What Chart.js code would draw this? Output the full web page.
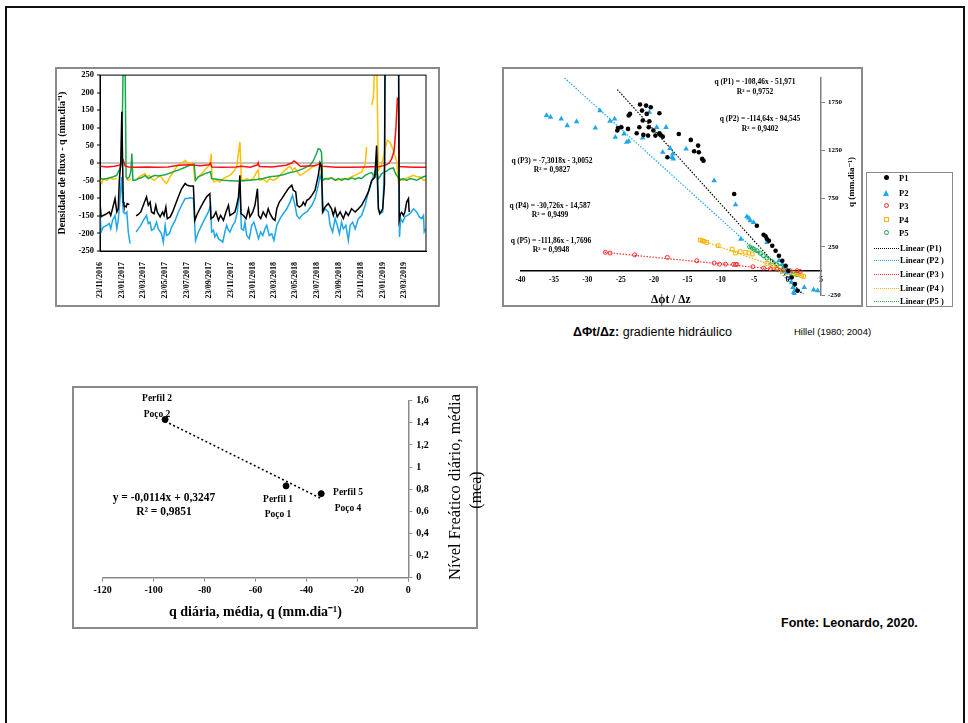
<!DOCTYPE html>
<html lang="pt">
<head>
<meta charset="UTF-8">
<title>Fluxo e nível freático</title>
<script src="https://cdn.jsdelivr.net/npm/chart.js@4"></script>
<style>
    body {
        margin: 0;
        width: 968px;
        height: 723px;
        background: #fff;
        position: relative;
        overflow: hidden;
        font-family: "Liberation Serif", "DejaVu Serif", serif;
    }
    .pagina {
        position: absolute;
        left: 5px;
        top: 6px;
        width: 956px;
        height: 760px;
        border: 2.5px solid #111;
        border-bottom: none;
    }
    .quadro {
        position: absolute;
        border: 2px solid #8a8a8a;
        box-sizing: border-box;
    }
    canvas { position: absolute; }
    .txt {
        position: absolute;
        white-space: nowrap;
        font-weight: bold;
        color: #000;
        text-align: center;
        transform: translateX(-50%);
    }
    .vert {
        position: absolute;
        white-space: nowrap;
        color: #000;
        transform: translate(-50%, -50%) rotate(-90deg);
    }
    /* legenda do grafico de dispersao */
    .legenda {
        position: absolute;
        left: 866px;
        top: 172px;
        width: 87px;
        height: 135px;
        border: 1px solid #8a8a8a;
        box-sizing: border-box;
        font-weight: bold;
        font-size: 8.5px;
    }
    .item { position: absolute; left: 0; height: 10px; width: 86px; }
    .item span { position: absolute; top: 0; line-height: 10px; }
    .mk { position: absolute; box-sizing: border-box; }
    .ln { position: absolute; left: 7px; top: 5px; width: 25px; border-top: 1.5px dotted; }
</style>
</head>
<body>
<div class="pagina"></div>

<!-- grafico 1 : densidade de fluxo -->
<div class="quadro" style="left:55px;top:67px;width:385px;height:240px"></div>
<canvas id="grafFluxo" width="385" height="240" style="left:55px;top:67px"></canvas>

<!-- grafico 2 : gradiente hidraulico -->
<div class="quadro" style="left:502px;top:67px;width:361px;height:240px"></div>
<canvas id="grafGrad" width="361" height="240" style="left:502px;top:67px"></canvas>
<div class="vert" style="left:851px;top:182px;font-size:9px;font-weight:bold">q (mm.dia⁻¹)</div>

<div class="txt" style="left:755px;top:77px;font-size:7.5px;line-height:10px">q (P1) = -108,46x - 51,971<br>R² = 0,9752</div>
<div class="txt" style="left:760px;top:114px;font-size:7.5px;line-height:10px">q (P2) = -114,64x - 94,545<br>R² = 0,9402</div>
<div class="txt" style="left:552px;top:156px;font-size:7.5px;line-height:9px">q (P3) = -7,3018x - 3,0052<br>R² = 0,9827</div>
<div class="txt" style="left:550px;top:201px;font-size:7.5px;line-height:9px">q (P4) = -30,726x - 14,587<br>R² = 0,9499</div>
<div class="txt" style="left:551px;top:236px;font-size:7.5px;line-height:9px">q (P5) = -111,86x - 1,7696<br>R² = 0,9948</div>

<div class="legenda">
    <div class="item" style="top:0px"><div class="mk" style="left:17px;top:2px;width:5px;height:5px;border-radius:50%;background:#000"></div><span style="left:32px">P1</span></div>
    <div class="item" style="top:15px"><div class="mk" style="left:16px;top:2px;width:0;height:0;border-left:3px solid transparent;border-right:3px solid transparent;border-bottom:6px solid #1ea7e8"></div><span style="left:32px">P2</span></div>
    <div class="item" style="top:28px"><div class="mk" style="left:17px;top:2px;width:5px;height:5px;border-radius:50%;border:1px solid #ff2a2a"></div><span style="left:32px">P3</span></div>
    <div class="item" style="top:42px"><div class="mk" style="left:17px;top:2px;width:5px;height:5px;border:1px solid #f5b400"></div><span style="left:32px">P4</span></div>
    <div class="item" style="top:55px"><div class="mk" style="left:17px;top:2px;width:5px;height:5px;border-radius:50%;border:1px solid #18a84a"></div><span style="left:32px">P5</span></div>
    <div class="item" style="top:70px"><div class="ln" style="border-color:#000"></div><span style="left:33px">Linear (P1)</span></div>
    <div class="item" style="top:82px"><div class="ln" style="border-color:#1ea7e8"></div><span style="left:33px">Linear (P2 )</span></div>
    <div class="item" style="top:96px"><div class="ln" style="border-color:#ff2a2a"></div><span style="left:33px">Linear (P3 )</span></div>
    <div class="item" style="top:110px"><div class="ln" style="border-color:#f5b400"></div><span style="left:33px">Linear (P4 )</span></div>
    <div class="item" style="top:123px"><div class="ln" style="border-color:#18a84a"></div><span style="left:33px">Linear (P5 )</span></div>
</div>

<div style="position:absolute;left:573px;top:325px;font-family:'Liberation Sans',sans-serif;font-size:12.5px;white-space:nowrap"><b>ΔΦt/Δz:</b> gradiente hidráulico</div>
<div style="position:absolute;left:794px;top:326px;font-family:'Liberation Sans',sans-serif;font-size:9.5px;white-space:nowrap">Hillel (1980; 2004)</div>

<!-- grafico 3 : nivel freatico x q -->
<div class="quadro" style="left:72px;top:386px;width:406px;height:243px"></div>
<canvas id="grafNivel" width="406" height="243" style="left:72px;top:386px"></canvas>
<div class="vert" style="left:455px;top:487px;font-size:16.5px">Nível Freático diário, média</div>
<div class="vert" style="left:476px;top:490px;font-size:16px">(mca)</div>
<div class="txt" style="left:157px;top:390px;font-size:9.5px;line-height:16px">Perfil 2<br>Poço 2</div>
<div class="txt" style="left:278px;top:492px;font-size:9.5px;line-height:15px">Perfil 1<br>Poço 1</div>
<div class="txt" style="left:348px;top:484px;font-size:9.5px;line-height:16px">Perfil 5<br>Poço 4</div>
<div class="txt" style="left:164px;top:490px;font-size:11.5px;line-height:14px">y = -0,0114x + 0,3247<br>R² = 0,9851</div>

<div style="position:absolute;left:781px;top:616px;font-family:'Liberation Sans',sans-serif;font-size:12.5px;font-weight:bold;white-space:nowrap">Fonte: Leonardo, 2020.</div>

<script>
// ---- grafico 1 : densidade de fluxo diaria (dia desde 23/11/2016, q em mm/dia)
const dateTicks = [0, 61, 120, 181, 242, 304, 365, 426, 485, 546, 607, 669, 730, 791, 850];
const dateLabels = ['23/11/2016', '23/01/2017', '23/03/2017', '23/05/2017', '23/07/2017', '23/09/2017', '23/11/2017',
    '23/01/2018', '23/03/2018', '23/05/2018', '23/07/2018', '23/09/2018', '23/11/2018', '23/01/2019', '23/03/2019'];

const fluxoP1 = [[0,-111],[3,-153],[9,-149],[19,-144],[26,-139],[30,-149],[35,-130],[42,-101],[47,-139],[51,-130],[54,-50],[58,3],[61,146],[65,-110],[67,-120],[73,-125],[76,-115],[82,-118],[90,null],
    [101,-150],[107,-146],[114,-139],[121,-120],[130,-96],[135,-120],[140,-111],[144,-139],[151,-144],[156,-120],[160,-139],[168,-153],[175,-139],[179,-149],[184,-125],[188,-158],[196,-153],[203,-139],[210,-120],[219,-96],[228,-73],[238,-58],[244,-63],[252,-65],[261,-65],
    [265,-163],[270,-149],[279,-130],[289,-111],[298,-96],[307,-87],[310,-158],[317,-153],[324,-139],[331,-163],[337,-149],[345,-163],[352,-139],[359,-120],[363,-149],[371,-144],[377,-139],[382,-120],[387,-96],[391,-35],
    [394,-144],[401,-149],[408,-158],[415,-130],[419,-153],[427,-139],[433,-120],[440,-73],[443,-149],[449,-158],[456,-139],[464,-153],[470,-130],[475,-144],[483,-158],[489,-163],[494,-130],[501,-111],[508,-101],[517,-87],[526,-73],[536,-63],[540,-77],[547,-82],
    [551,-120],[557,-125],[564,-120],[568,-111],[573,-120],[578,-106],[585,-101],[592,-92],[601,-77],[610,-35],[615,0],[619,-11],[622,-139],[629,-125],[638,-115],[647,-130],[652,-149],[657,-130],[663,-153],[671,-139],[680,-158],[687,-139],[694,-149],[703,-130],[713,-139],[722,-130],[731,-120],[741,-101],[750,-82],[759,-50],[768,-40],[773,50],
    [778,-130],[782,-144],[790,-130],[795,-60],[797,400],[834,400],[836,-163],[840,-144],[843,-140],[848,-149],[852,-139],[857,-111],[862,-101],[864,-139]];

const fluxoP2 = [[0,-139],[3,-196],[9,-182],[19,-177],[26,-172],[30,-187],[35,-163],[42,-149],[47,-187],[51,-163],[56,-101],[60,-40],[65,-139],[70,-144],[75,-139],[79,-196],[84,-229],[92,null],
    [101,-196],[107,-187],[114,-177],[121,-163],[130,-149],[135,-172],[140,-168],[144,-191],[151,-187],[158,-168],[163,-187],[172,-201],[177,-225],[182,-177],[186,-206],[194,-201],[200,-182],[210,-163],[219,-139],[228,-120],[238,-101],[244,-101],[252,-99],[261,-101],
    [267,-220],[275,-196],[284,-177],[293,-158],[303,-139],[309,-120],[312,-196],[317,-191],[321,-210],[326,-201],[331,-215],[337,-220],[343,-225],[349,-196],[354,-177],[359,-191],[363,-196],[371,-177],[377,-168],[384,-139],[391,-63],
    [395,-187],[401,-191],[405,-168],[410,-206],[417,-215],[424,-177],[430,-168],[438,-196],[443,-215],[449,-196],[455,-206],[461,-187],[466,-177],[473,-206],[480,-201],[486,-220],[494,-177],[503,-158],[512,-144],[522,-130],[531,-111],[538,-92],
    [545,-120],[550,-149],[557,-158],[564,-149],[570,-144],[578,-139],[585,-130],[592,-120],[601,-101],[610,-63],[615,-35],[620,-54],[624,-139],[629,-130],[638,-139],[643,-177],[650,-196],[657,-158],[663,-177],[669,-201],[675,-168],[680,-187],[687,-177],[694,-220],[699,-177],[706,-168],[713,-187],[722,-158],[731,-149],[741,-120],[750,-82],[759,-54],[768,-25],[773,-6],
    [778,-130],[782,-144],[790,-139],[795,-6],[797,400],[834,400],[837,-210],[840,-158],[846,-168],[852,-153],[859,-149],[866,-144],[876,-130],[885,-139],[892,-153],[899,-158],[904,-149],[906,-196],[911,-187]];

const fluxoP3 = [[0,-9],[20,-11],[40,-9],[56,-6],[62,6],[65,8],[70,-8],[80,-11],[100,-12],[130,-11],[160,-12],[190,-11],[220,-6],[250,-5],[280,-8],[305,-5],[309,0],[312,-11],[340,-12],[380,-11],[395,-9],[420,-12],[440,-5],[442,1],[445,-10],[480,-11],
    [520,-6],[536,0],[542,6],[548,2],[560,-9],[600,-8],[615,-2],[622,-9],[660,-12],[700,-12],[740,-11],[780,-10],[790,-8],[800,-5],[808,0],[815,12],[822,35],[827,100],[831,184],[834,184],[836,-10],[860,-11],[880,-12],[911,-12]];

const fluxoP4 = [[0,-49],[5,-58],[9,-44],[19,-49],[28,-42],[37,-46],[47,-44],[60,null],[73,-44],[79,-49],[86,-44],[94,null],
    [101,-49],[107,-42],[116,-35],[126,-30],[130,-39],[138,-35],[144,-44],[151,-49],[158,-44],[168,-35],[177,-49],[186,-58],[196,-39],[205,-25],[214,-11],[224,-2],[233,3],[238,8],[244,1],[252,0],[261,-2],
    [265,-49],[270,-44],[279,-35],[289,-25],[298,-14],[307,-5],[311,27],[313,-44],[319,-54],[326,-49],[335,-54],[345,-44],[354,-39],[363,-35],[373,-25],[382,-11],[388,36],[391,60],
    [395,-44],[401,-49],[410,-44],[419,-49],[428,-44],[438,-25],[442,-20],[445,-49],[456,-46],[466,-54],[475,-44],[484,-49],[494,-44],[503,-35],[512,-25],[522,-16],[531,-9],[538,-20],[545,-14],[551,-25],[559,-35],[568,-30],[578,-23],[587,-16],[596,-9],[605,-5],[615,0],
    [622,-49],[633,-44],[647,-42],[661,-49],[675,-44],[689,-46],[703,-39],[713,-35],[722,-30],[731,-25],[741,-5],[745,46],[752,null],[759,165],[764,184],[768,300],[773,300],
    [778,-20],[787,-6],[796,36],[803,65],[810,60],[820,36],[829,5],[834,-54],[838,-44],[848,-49],[857,-42],[866,-39],[876,-35],[885,-39],[894,-39],[904,-49],[911,-49]];

const fluxoP5 = [[0,-44],[9,-46],[19,-44],[28,-42],[37,-39],[47,-35],[51,-25],[56,-16],[60,-2],[62,89],[65,300],[70,300],[73,-39],[76,-44],[82,-39],[86,-25],[89,27],[92,-49],[98,-49],
    [107,-44],[116,-42],[126,-35],[135,-44],[144,-39],[154,-35],[163,-37],[172,-35],[182,-33],[191,-30],[200,-27],[210,-23],[219,-20],[228,-16],[238,-12],[247,-8],[256,-5],[263,-3],
    [267,-49],[275,-39],[284,-35],[293,-30],[303,-27],[309,-25],[312,-44],[326,-46],[345,-49],[363,-50],[382,-51],[401,-50],[419,-49],[438,-47],[456,-44],[475,-39],[494,-37],[512,-33],[531,-27],[550,-23],[568,-16],[587,-6],[596,6],[605,27],[610,41],[615,39],[619,30],
    [622,-49],[629,-44],[638,-46],[647,-42],[657,-49],[666,-44],[675,-49],[685,-44],[694,-47],[703,-42],[713,-46],[722,-42],[731,-44],[741,-35],[750,-30],[759,-27],[764,-35],[768,-39],[773,-25],
    [778,-44],[782,-39],[787,-30],[792,-27],[801,-23],[810,-16],[820,-14],[824,-25],[829,-35],[834,-42],[838,-49],[848,-44],[857,-49],[866,-44],[876,-46],[885,-49],[894,-44],[904,-39],[911,-37]];

// ---- grafico 2 : q x gradiente hidraulico
const gradP1 = [[-25.5,1455],[-25.4,1482],[-24.9,1489],[-23.9,1472],[-23.8,1611],[-23.6,1628],[-22.6,1427],[-22.2,1489],[-22.1,1725],[-21.8,1662],[-21.7,1559],[-21.6,1410],[-21.2,1714],[-21.1,1628],[-20.9,1403],[-20.8,1489],[-20.7,1552],[-20.5,1697],[-20.1,1455],[-19.8,1403],
    [-19.2,1635],[-19.2,1427],[-19.1,1413],[-18.7,1392],[-18.0,1178],[-16.3,1420],[-14.5,1358],[-14.0,1240],[-13.4,1299],[-13.3,1230],[-12.8,1161],[-12.6,1143],[-8.0,797],[-4.6,468],[-3.6,375],[-3.3,358],[-3.1,330],[-2.8,313],[-2.3,261],[-1.8,209],[-1.3,157],[-0.8,105],[-0.3,53],[0.1,1],[0.6,-68],[1.1,-137],[1.5,-206]];
const gradP2 = [[-36.1,1611],[-35.5,1593],[-33.9,1576],[-33.0,1507],[-31.6,1548],[-28.8,1482],[-28.1,1662],[-26.6,1552],[-25.9,1576],[-25.8,1386],[-25.0,1489],[-24.5,1420],[-24.1,1334],[-23.8,1344],[-21.7,1379],[-20.7,1645],[-19.6,1489],[-18.8,1403],[-18.7,1230],[-18.2,1489],
    [-17.6,1271],[-17.3,1178],[-17.2,1213],[-17.1,1161],[-15.2,1264],[-11.0,936],[-7.8,686],[-7.0,330],[-6.1,562],[-5.8,548],[-5.6,520],[-5.1,503],[-3.1,295],[-1.3,105],[-0.8,70],[-0.3,36],[-0.1,-16],[0.4,-68],[0.6,-120],[0.8,-172],[0.9,-224],[1.0,-241],[1.1,-206],[2.5,-172],[3.9,-196],[4.5,-206]];
const gradP3 = [[-27.3,192],[-26.6,185],[-22.9,167],[-18.0,140],[-13.6,105],[-11.0,81],[-10.2,70],[-9.3,70],[-8.1,67],[-7.8,67],[-7.6,67],[-5.2,43],[-3.6,29],[-2.6,22],[-1.6,15],[-0.6,8],[0.4,1],[1.4,1],[1.9,-6]];
const gradP4 = [[-13.1,320],[-12.8,313],[-12.5,306],[-12.1,295],[-10.4,261],[-8.3,226],[-7.8,185],[-7.1,199],[-6.3,192],[-5.8,185],[-5.3,174],[-3.1,77],[-2.3,53],[-1.6,29],[-0.8,1],[-0.1,-16],[0.9,-26],[1.6,-33],[2.1,-51],[2.4,-58]];
const gradP5 = [[-5.7,250],[-5.3,236],[-5.0,223],[-4.6,209],[-4.1,185],[-3.6,157],[-3.1,133],[-2.3,98],[-1.6,64],[-1.1,43],[-0.6,19],[-0.1,1],[0.4,-16],[0.9,-33],[1.4,-40]];
const trendP1 = [[-25.5,1880],[2.2,-241]];
const trendP2 = [[-33.4,2000],[2.4,-241]];
const trendP3 = [[-27.4,192],[2.0,-10]];
const trendP4 = [[-13.0,320],[2.3,-57]];
const trendP5 = [[-5.8,254],[1.5,-50]];
const gradYTicks = [-250, 250, 750, 1250, 1750];

// ---- grafico 3 : nivel freatico medio x q media
const qMedia = [-95.5, -48.0, -34.2];
const nivelMedio = [1.43, 0.83, 0.76];
const trendNivelX = [-95.5, -34.2];
const trendNivelY = [1.414, 0.715];

const serif = 'Liberation Serif';
const toXY = arr => arr.map(p => ({ x: p[0], y: p[1] }));

// contorno da area de plotagem
const moldura = {
    id: 'moldura',
    afterDraw(chart) {
        const a = chart.chartArea, c = chart.ctx;
        c.save();
        c.strokeStyle = '#000';
        c.lineWidth = 1;
        c.strokeRect(a.left, a.top, a.right - a.left, a.bottom - a.top);
        c.restore();
    }
};

function serie(pts, cor) {
    return { data: toXY(pts), borderColor: cor, borderWidth: 1.5, pointRadius: 0, tension: 0, spanGaps: false };
}

new Chart(document.getElementById('grafFluxo'), {
    type: 'line',
    data: {
        datasets: [
            serie(fluxoP1, '#000000'),
            serie(fluxoP3, '#ff1010'),
            serie(fluxoP5, '#18a84a'),
            serie(fluxoP4, '#ffc000'),
            serie(fluxoP2, '#1ea7e8')
        ]
    },
    options: {
        responsive: false,
        animation: false,
        layout: { padding: { top: 8, right: 14 } },
        plugins: { legend: { display: false }, tooltip: { enabled: false } },
        scales: {
            x: {
                type: 'linear', min: 0, max: 911,
                afterBuildTicks: s => { s.ticks = dateTicks.map(v => ({ value: v })); },
                afterFit: s => { s.height = 56; },
                ticks: {
                    autoSkip: false, minRotation: 90, maxRotation: 90, padding: 3, color: '#000',
                    font: { family: serif, size: 8, weight: 'bold' },
                    callback: v => { const i = dateTicks.indexOf(v); return i < 0 ? '' : dateLabels[i]; }
                },
                grid: { display: false },
                border: { color: '#000', width: 1 }
            },
            y: {
                min: -250, max: 250,
                afterFit: s => { s.width = 45; },
                ticks: { stepSize: 50, padding: 3, color: '#000', font: { family: serif, size: 8.5, weight: 'bold' } },
                grid: {
                    color: c => c.tick && c.tick.value === 0 ? '#c4c4c4' : 'rgba(0,0,0,0)',
                    lineWidth: 2, tickColor: '#000', tickLength: 3, tickWidth: 1
                },
                border: { color: '#000', width: 1 },
                title: { display: true, text: 'Densidade de fluxo - q (mm.dia⁻¹)', color: '#000', padding: { top: 1, bottom: 2 }, font: { family: serif, size: 10, weight: 'bold' } }
            }
        }
    },
    plugins: [moldura]
});

function tendencia(pts, cor) {
    return { type: 'line', data: toXY(pts), borderColor: cor, borderWidth: 1.2, borderDash: [1.5, 1.5], pointRadius: 0, showLine: true, fill: false };
}

new Chart(document.getElementById('grafGrad'), {
    type: 'scatter',
    data: {
        datasets: [
            { data: toXY(gradP1), backgroundColor: '#000', borderColor: '#000', pointRadius: 2.3, borderWidth: 0 },
            { data: toXY(gradP2), backgroundColor: '#1ea7e8', borderColor: '#1ea7e8', pointStyle: 'triangle', pointRadius: 3.2, borderWidth: 0 },
            { data: toXY(gradP3), backgroundColor: 'rgba(0,0,0,0)', borderColor: '#ff2a2a', pointRadius: 2, borderWidth: 1 },
            { data: toXY(gradP4), backgroundColor: 'rgba(0,0,0,0)', borderColor: '#f5b400', pointStyle: 'rect', pointRadius: 2.6, borderWidth: 1 },
            { data: toXY(gradP5), backgroundColor: 'rgba(0,0,0,0)', borderColor: '#18a84a', pointRadius: 2, borderWidth: 1 },
            tendencia(trendP1, '#000'),
            tendencia(trendP2, '#1ea7e8'),
            tendencia(trendP3, '#ff2a2a'),
            tendencia(trendP4, '#f5b400'),
            tendencia(trendP5, '#18a84a')
        ]
    },
    options: {
        responsive: false,
        animation: false,
        layout: { padding: { left: 18.5, top: 11 } },
        plugins: { legend: { display: false }, tooltip: { enabled: false } },
        scales: {
            x: {
                type: 'linear', min: -40, max: 5, position: { y: 0 },
                afterFit: s => { s.height = 0; },
                ticks: { stepSize: 5, padding: 5, color: '#000', font: { family: serif, size: 7.5, weight: 'bold' } },
                grid: { drawOnChartArea: false, drawTicks: false },
                border: { color: '#000', width: 1.5 }
            },
            x2: {
                type: 'linear', min: -40, max: 5, position: 'bottom',
                afterFit: s => { s.height = 12; },
                ticks: { display: false },
                grid: { display: false },
                border: { display: false },
                title: { display: true, text: 'Δϕt / Δz', color: '#000', padding: 0, font: { family: serif, size: 11.5, weight: 'bold' } }
            },
            y: {
                type: 'linear', position: 'right', min: -250, max: 2000,
                afterBuildTicks: s => { s.ticks = gradYTicks.map(v => ({ value: v })); },
                afterFit: s => { s.width = 42; },
                ticks: { padding: 3, color: '#000', font: { family: serif, size: 7, weight: 'bold' }, callback: v => String(v) },
                grid: { drawOnChartArea: false, tickLength: 4, color: '#7f7f7f' },
                border: { color: '#7f7f7f', width: 1.5 }
            }
        }
    }
});

new Chart(document.getElementById('grafNivel'), {
    type: 'scatter',
    data: {
        datasets: [
            { data: qMedia.map((q, i) => ({ x: q, y: nivelMedio[i] })), backgroundColor: '#000', borderColor: '#000', pointRadius: 3 },
            { type: 'line', data: trendNivelX.map((q, i) => ({ x: q, y: trendNivelY[i] })), borderColor: '#000', borderWidth: 1.6, borderDash: [2, 2.5], pointRadius: 0, showLine: true }
        ]
    },
    options: {
        responsive: false,
        animation: false,
        layout: { padding: { left: 30.7, top: 14.7 } },
        plugins: { legend: { display: false }, tooltip: { enabled: false } },
        scales: {
            x: {
                type: 'linear', min: -120, max: 0,
                afterFit: s => { s.height = 51.3; },
                ticks: { stepSize: 20, padding: 3, color: '#000', font: { family: serif, size: 10, weight: 'bold' } },
                grid: { drawOnChartArea: false, tickLength: 4, color: '#8a8a8a' },
                border: { color: '#8a8a8a', width: 1.5 },
                title: { display: true, text: 'q diária, média, q (mm.dia⁻¹)', color: '#000', padding: { top: 4, bottom: 8 }, font: { family: serif, size: 14, weight: 'bold' } }
            },
            y: {
                type: 'linear', position: 'right', min: 0, max: 1.6,
                afterFit: s => { s.width = 69.7; },
                ticks: {
                    stepSize: 0.2, padding: 4, color: '#000', font: { family: serif, size: 10, weight: 'bold' },
                    callback: v => String(Number(v.toFixed(1))).replace('.', ',')
                },
                grid: { drawOnChartArea: false, tickLength: 4, color: '#8a8a8a' },
                border: { color: '#8a8a8a', width: 1.5 }
            }
        }
    }
});
</script>
</body>
</html>
